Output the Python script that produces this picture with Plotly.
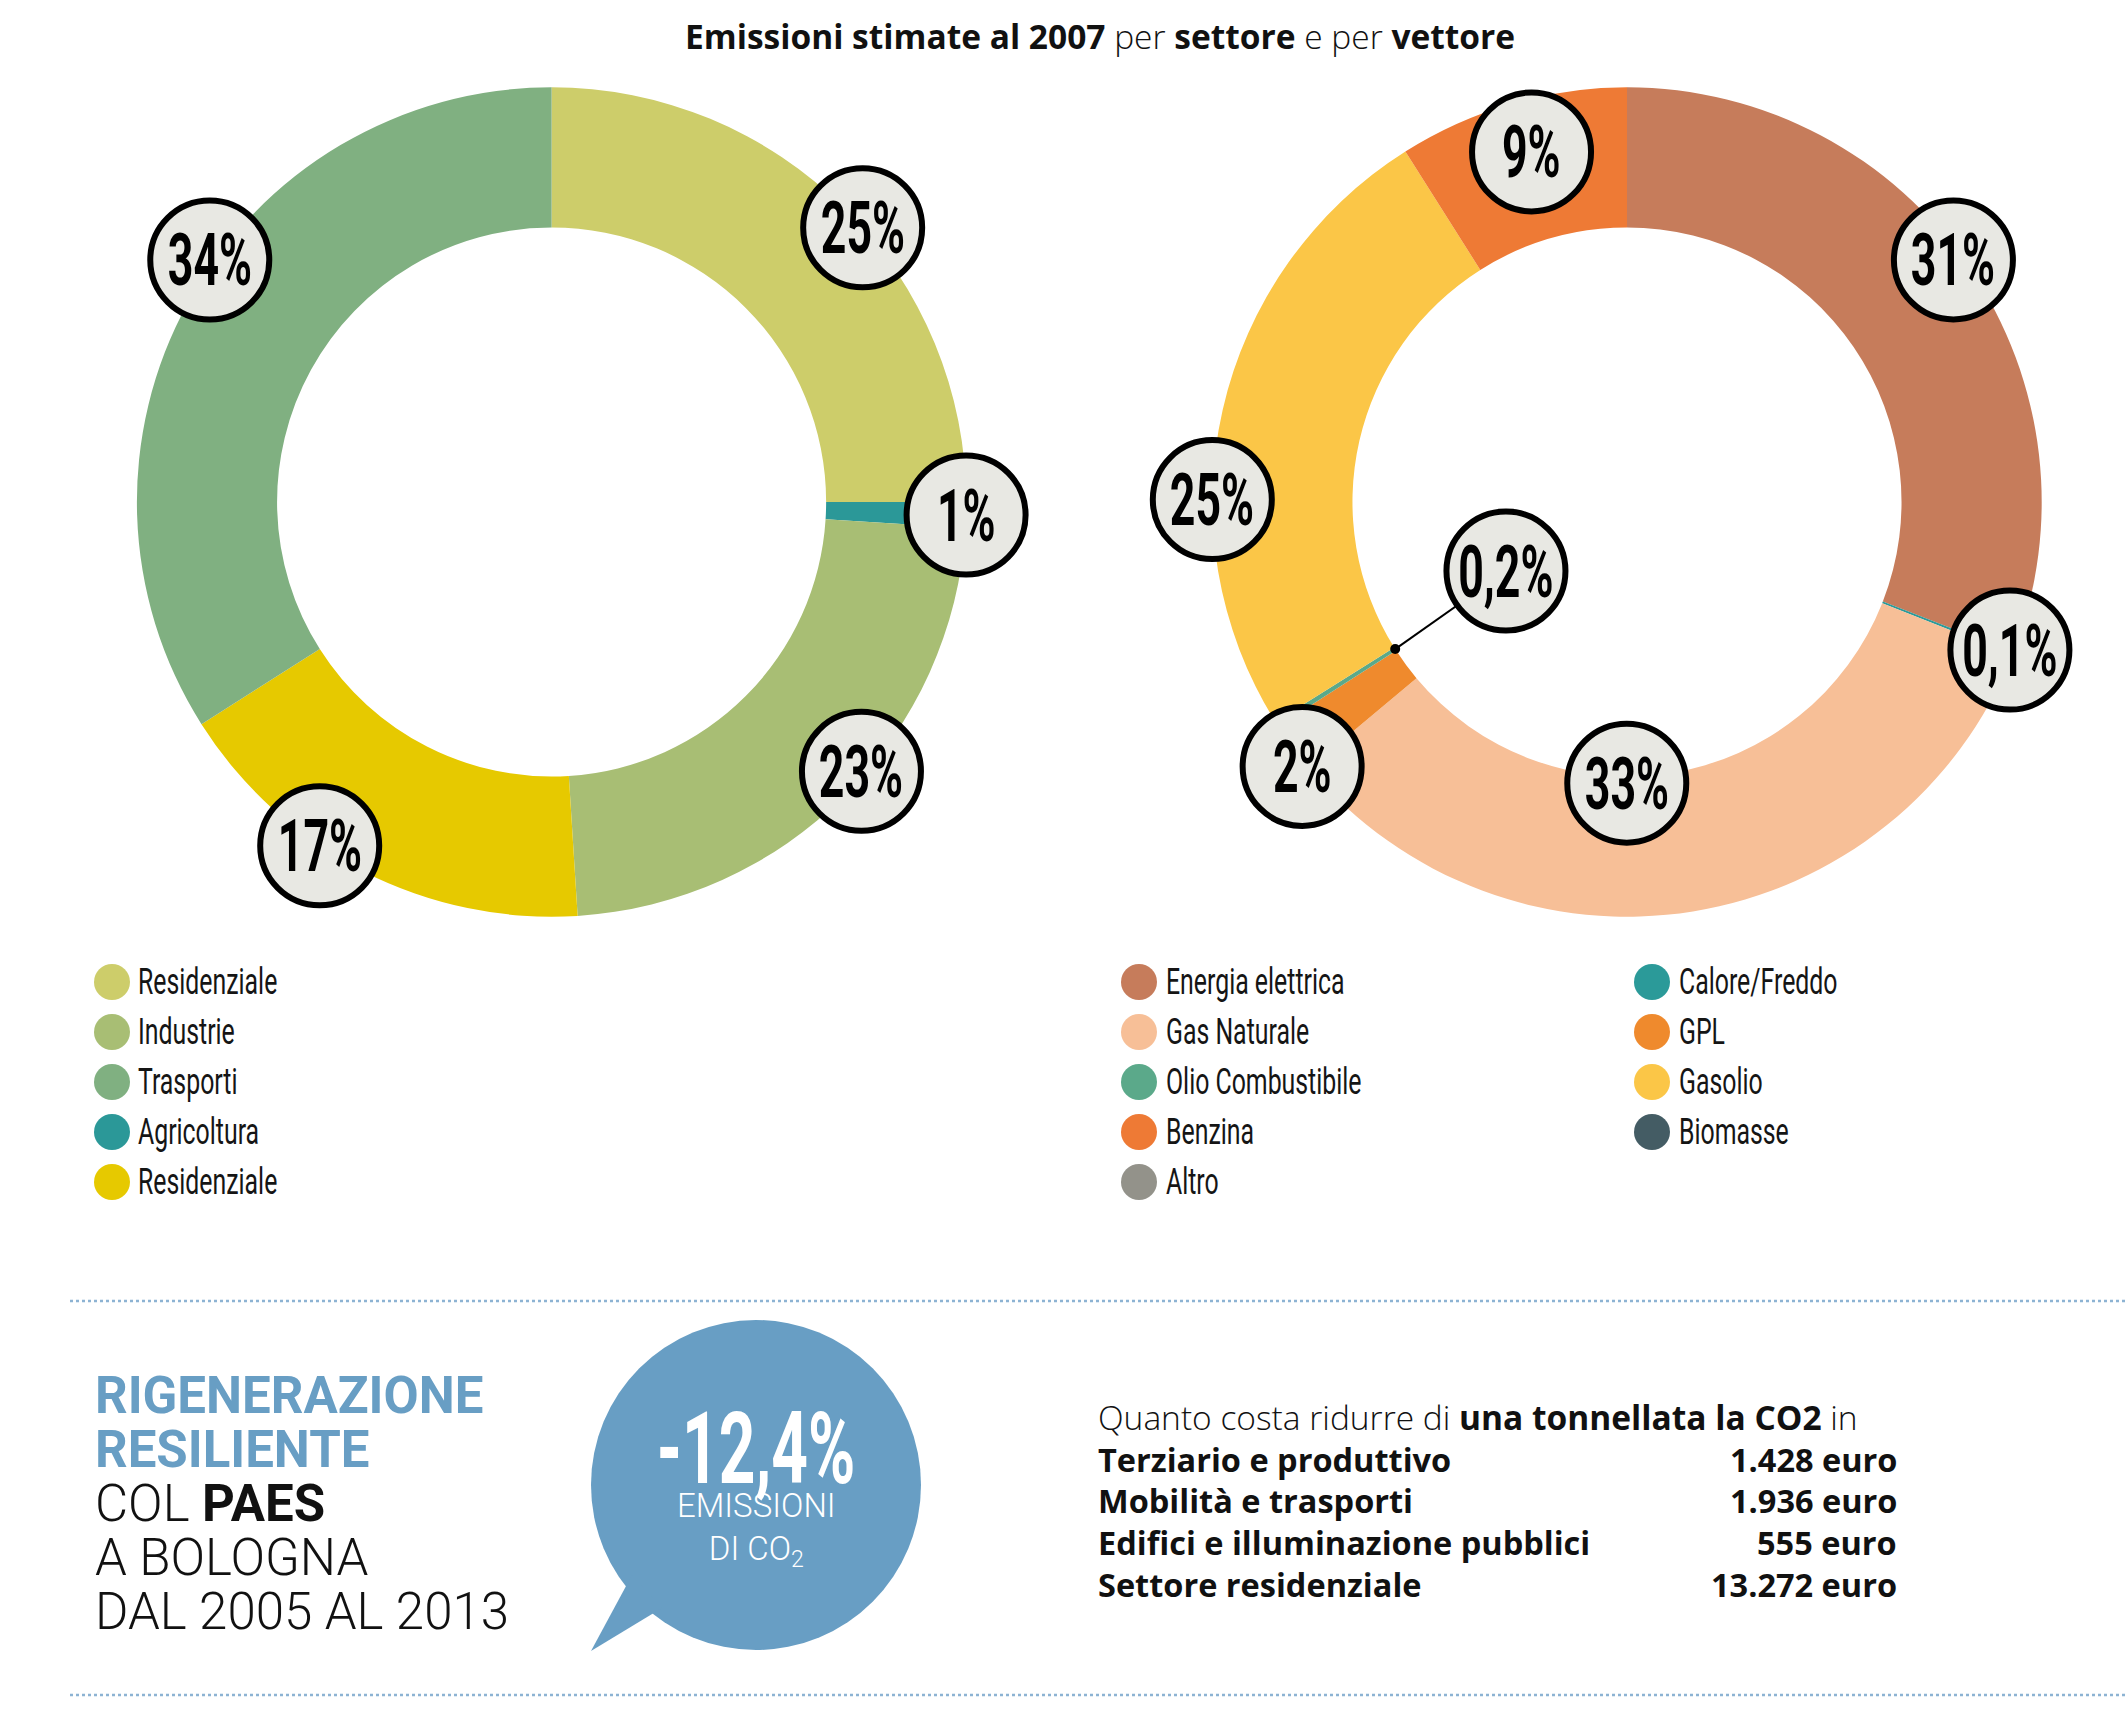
import math
import plotly.graph_objects as go

W, H = 2125, 1725

# ---------------- data ----------------
title_html = "<b>Emissioni stimate al 2007</b> per <b>settore</b> e per <b>vettore</b>"

sector_names = ["Residenziale", "Industrie", "Trasporti", "Agricoltura", "Residenziale"]
sector_values = [25, 23, 34, 1, 17]
sector_colors = ["#CDCD6A", "#A8BE74", "#80B081", "#2B9898", "#E6C900"]
sector_ring_order = [0, 3, 1, 4, 2]          # clockwise from 12 o'clock

carrier_names = ["Energia elettrica", "Gas Naturale", "Olio Combustibile", "Benzina", "Altro",
                 "Calore/Freddo", "GPL", "Gasolio", "Biomasse"]
carrier_values = [31, 33, 0.2, 9, 0, 0.1, 2, 25, 0]
carrier_colors = ["#C67C5B", "#F7BF97", "#5BA98A", "#EE7A35", "#93928A",
                  "#2B9A99", "#EF8A2D", "#FBC647", "#445C64"]
carrier_ring_order = [0, 5, 1, 6, 2, 7, 3]

cost_intro = "Quanto costa ridurre di <b>una tonnellata la CO2</b> in"
cost_sectors = ["Terziario e produttivo", "Mobilità e trasporti",
                "Edifici e illuminazione pubblici", "Settore residenziale"]
cost_values = [1428, 1936, 555, 13272]

headline_blue = ["RIGENERAZIONE", "RESILIENTE"]
headline_black = ["COL <b>PAES</b>", "A BOLOGNA", "DAL 2005 AL 2013"]
reduction_value = -12.4
reduction_caption = ["EMISSIONI", "DI CO<sub>2</sub>"]

# ---------------- layout parameters ----------------
HOLE = 0.662
R = 414.7
LEFT_C = (551.6, 502.0)
RIGHT_C = (1627.0, 502.0)
# label placement tweaks: index -> (angle nudge in degrees, radius as fraction of R)
sector_label_place = {0: (3.6, 1.0), 1: (-4.0, 0.99), 2: (6.5, 1.01), 3: (0.0, 1.0), 4: (7.0, 1.0)}
carrier_label_place = {0: (-2.2, 0.98), 1: (9.2, 0.678), 2: (2.7, 0.336), 3: (0.9, 0.875),
                       5: (-0.3, 0.99), 6: (-2.8, 1.01), 7: (-12.5, 1.0)}
leader_items = {2}  # carrier items with a leader line

SANS = "Roboto, Open Sans, sans-serif"
OPEN = "Open Sans, Roboto, sans-serif"


def condensed(pct):
    # marker family name (not installed) -> falls back to Roboto; the page script
    # then narrows these texts horizontally to imitate a condensed face
    return f"RCX{pct}, Roboto, sans-serif"


BLUE = "#689EC4"


def X(px):
    return px / W


def Y(py):
    return 1 - py / H


def fmt_pct(v):
    return (f"{v:g}".replace(".", ",")) + "%"


fig = go.Figure()
shapes = []
annotations = []


def add_donut(center, names, values, colors, order):
    cx, cy = center
    fig.add_trace(go.Pie(
        labels=[f"{i}" for i in order],
        values=[values[i] for i in order],
        marker=dict(colors=[colors[i] for i in order], line=dict(width=0)),
        hovertext=[names[i] for i in order],
        hoverinfo="text+percent",
        sort=False, direction="clockwise", rotation=0, hole=HOLE,
        textinfo="none", showlegend=False,
        domain=dict(x=[X(cx - R), X(cx + R)], y=[Y(cy + R), Y(cy - R)]),
    ))


def mid_angles(values, order):
    total = sum(values[i] for i in order)
    cum = 0
    res = {}
    for i in order:
        res[i] = 360.0 * (cum + values[i] / 2.0) / total
        cum += values[i]
    return res


def polar(center, ang, r):
    cx, cy = center
    a = math.radians(ang)
    return cx + r * math.sin(a), cy - r * math.cos(a)


def add_labels(center, values, order, place, leaders=()):
    mids = mid_angles(values, order)
    rr = 59.5
    for i in order:
        if i not in place:
            continue
        nudge, frac = place[i]
        px, py = polar(center, mids[i] + nudge, frac * R)
        if i in leaders:
            sx, sy = polar(center, mids[i], HOLE * R)
            shapes.append(dict(type="line", xref="paper", yref="paper",
                               x0=X(sx), y0=Y(sy), x1=X(px), y1=Y(py),
                               line=dict(color="black", width=2)))
            shapes.append(dict(type="circle", xref="paper", yref="paper",
                               x0=X(sx - 5), x1=X(sx + 5), y0=Y(sy + 5), y1=Y(sy - 5),
                               fillcolor="black", line=dict(width=0)))
        shapes.append(dict(type="circle", xref="paper", yref="paper",
                           x0=X(px - rr), x1=X(px + rr), y0=Y(py + rr), y1=Y(py - rr),
                           fillcolor="#E8E8E3", line=dict(color="black", width=6)))
        annotations.append(dict(x=X(px), y=Y(py + 1), xref="paper", yref="paper",
                                text=fmt_pct(values[i]), showarrow=False,
                                xanchor="center", yanchor="middle",
                                font=dict(family=condensed(62), size=72, color="black",
                                          weight="bold")))


add_donut(LEFT_C, sector_names, sector_values, sector_colors, sector_ring_order)
add_donut(RIGHT_C, carrier_names, carrier_values, carrier_colors, carrier_ring_order)
add_labels(LEFT_C, sector_values, sector_ring_order, sector_label_place)
add_labels(RIGHT_C, carrier_values, carrier_ring_order, carrier_label_place, leader_items)

# title
annotations.append(dict(x=X(1100), y=Y(36), xref="paper", yref="paper", text=title_html,
                        showarrow=False, xanchor="center", yanchor="middle",
                        font=dict(family=OPEN, size=33.5, color="#111111", weight=300)))


# legends
def add_legend(names, colors, x_dot, x_txt, y0, dy, col_rows, col_dx=0):
    for k, (n, c) in enumerate(zip(names, colors)):
        col, row = divmod(k, col_rows)
        cx = x_dot + col * col_dx
        tx = x_txt + col * col_dx
        cy = y0 + row * dy
        r = 18
        shapes.append(dict(type="circle", xref="paper", yref="paper",
                           x0=X(cx - r), x1=X(cx + r), y0=Y(cy + r), y1=Y(cy - r),
                           fillcolor=c, line=dict(width=0)))
        annotations.append(dict(x=X(tx), y=Y(cy), xref="paper", yref="paper", text=n,
                                showarrow=False, xanchor="left", yanchor="middle", align="left",
                                font=dict(family=condensed(69), size=36, color="#151515",
                                          weight=400)))


add_legend(sector_names, sector_colors, 112, 136, 982, 50, 5)
add_legend(carrier_names, carrier_colors, 1139, 1164, 982, 50, 5, col_dx=513)

# dotted separators
for yy in (1301, 1695):
    shapes.append(dict(type="line", xref="paper", yref="paper", x0=X(70), x1=1, y0=Y(yy), y1=Y(yy),
                       line=dict(color="#8DB3D3", width=2.5, dash="dot")))

# headline block
line_y = [1395, 1449.5, 1503.5, 1557, 1611.5]
for k, t in enumerate(headline_blue + headline_black):
    blue = k < len(headline_blue)
    annotations.append(dict(x=X(93), y=Y(line_y[k]), xref="paper", yref="paper", text=t,
                            showarrow=False, xanchor="left", yanchor="middle",
                            font=dict(family=SANS, size=51, color=BLUE if blue else "#111111",
                                      weight="bold" if blue else 300)))

# speech bubble
bx, by, br = 756, 1485, 165
shapes.append(dict(type="circle", xref="paper", yref="paper",
                   x0=X(bx - br), x1=X(bx + br), y0=Y(by + br), y1=Y(by - br),
                   fillcolor=BLUE, line=dict(width=0), layer="below"))
shapes.append(dict(type="path", xref="paper", yref="paper",
                   path=f"M {X(632)},{Y(1575)} L {X(591)},{Y(1651)} L {X(662)},{Y(1608)} Z",
                   fillcolor=BLUE, line=dict(width=0), layer="below"))
annotations.append(dict(x=X(bx), y=Y(1448), xref="paper", yref="paper",
                        text=fmt_pct(reduction_value), showarrow=False,
                        xanchor="center", yanchor="middle",
                        font=dict(family=condensed(64), size=100, color="white", weight="bold")))
annotations.append(dict(x=X(bx), y=Y(1529), xref="paper", yref="paper",
                        text="<br>".join(reduction_caption), showarrow=False,
                        xanchor="center", yanchor="middle", align="center",
                        font=dict(family=SANS, size=33, color="white", weight=300)))

# cost table
annotations.append(dict(x=X(1096), y=Y(1416.5), xref="paper", yref="paper", text=cost_intro,
                        showarrow=False, xanchor="left", yanchor="middle",
                        font=dict(family=OPEN, size=33.5, color="#111111", weight=300)))
for k, (s, v) in enumerate(zip(cost_sectors, cost_values)):
    yy = 1459 + k * 41.7
    annotations.append(dict(x=X(1096), y=Y(yy), xref="paper", yref="paper", text=f"<b>{s}</b>",
                            showarrow=False, xanchor="left", yanchor="middle",
                            font=dict(family=OPEN, size=32.5, color="#111111")))
    annotations.append(dict(x=X(1899), y=Y(yy), xref="paper", yref="paper",
                            text="<b>" + f"{v:,}".replace(",", ".") + " euro</b>",
                            showarrow=False, xanchor="right", yanchor="middle",
                            font=dict(family=OPEN, size=32.5, color="#111111")))

fig.update_layout(
    width=W, height=H, margin=dict(l=0, r=0, t=0, b=0),
    paper_bgcolor="white", plot_bgcolor="white",
    shapes=shapes, annotations=annotations, showlegend=False,
)

POST = """
document.body.style.margin='0';document.body.style.overflow='hidden';
var gd=document.getElementById('{plot_id}');
gd.querySelectorAll('text.annotation-text').forEach(function(el){
  var m=(el.getAttribute('style')||'').match(/RCX(\\d+)/);
  if(!m) return;
  var f=parseInt(m[1],10)/100;
  var L=el.getComputedTextLength();
  el.setAttribute('lengthAdjust','spacingAndGlyphs');
  el.setAttribute('textLength', (L*f).toFixed(1));
});
"""

fig.write_html("out.html", config={"displayModeBar": False}, post_script=POST)
